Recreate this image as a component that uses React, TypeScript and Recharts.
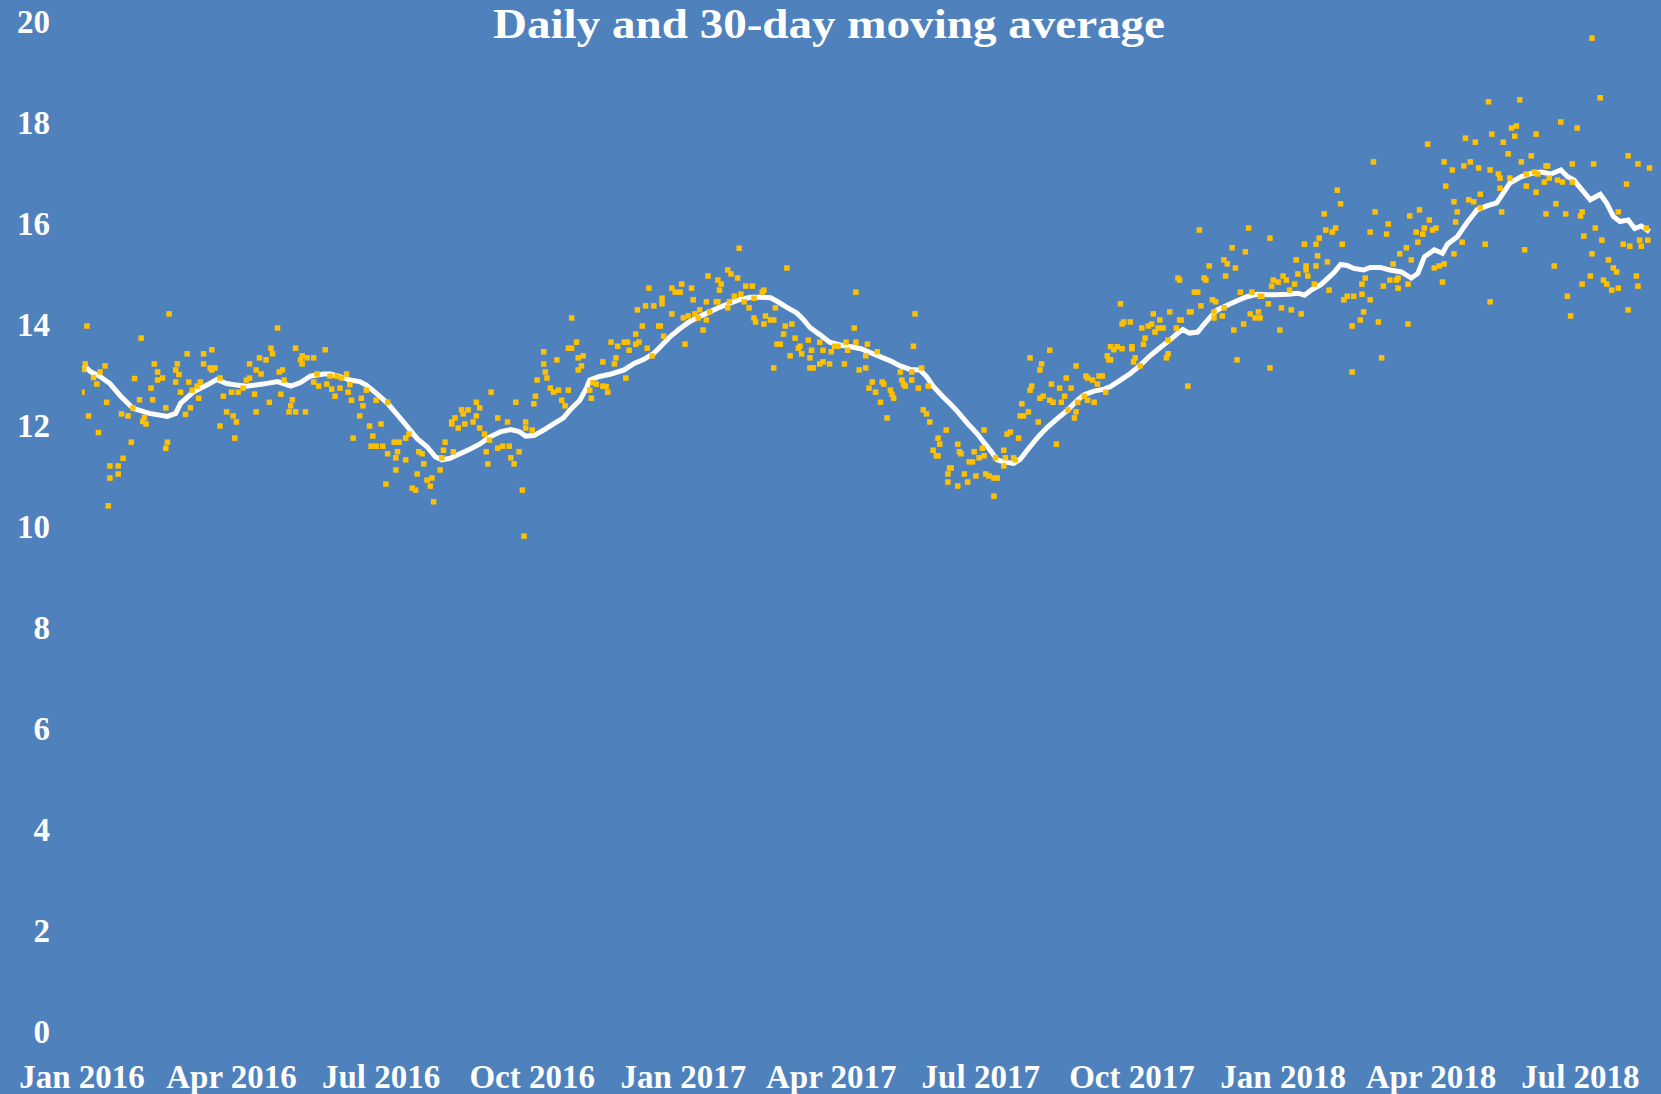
import { ComposedChart, Line, Scatter, XAxis, YAxis } from "recharts";

const WIDTH = 1661;
const HEIGHT = 1094;
const BG = "#4F81BD";
const GOLD = "#FFC000";
const FONT = '"Liberation Serif", "Times New Roman", serif';

const TITLE = "Daily and 30-day moving average";

// x is days since 1 Jan 2016
const tickDays = [0, 91, 182, 274, 366, 456, 547, 639, 731, 821, 912];
const tickLabels = [
  "Jan 2016", "Apr 2016", "Jul 2016", "Oct 2016", "Jan 2017", "Apr 2017",
  "Jul 2017", "Oct 2017", "Jan 2018", "Apr 2018", "Jul 2018",
];
const yTicks = [0, 2, 4, 6, 8, 10, 12, 14, 16, 18, 20];

// daily readings [day, value]
const dailyJanMay2016: [number, number][] = [
  [3,13.96],[53,14.2],[36,13.72],[2,13.21],[1,13.1],[7,12.94],[9,12.81],[0,12.65],[11,13.05],[14,13.17],
  [4,12.18],[10,11.85],[15,12.45],[24,12.22],[28,12.18],[31,12.34],[30,11.66],[25,11.34],[17,11.19],[22,11.19],
  [22,11.03],[17,10.95],[16,10.4],[32,12.92],[35,12.5],[42,12.73],[43,12.5],[44,13.21],[46,13.05],[46,12.89],
  [49,12.93],[38,12.15],[39,12.02],[37,12.07],[51,12.34],[52,11.66],[51,11.54],[58,13.21],[57,13.09],[59,13.0],
  [57,12.85],[60,12.65],[64,13.41],[65,12.85],[66,12.34],[63,12.21],[71,12.53],[67,12.69],[70,12.77],[72,12.85],
  [74,13.41],[74,13.21],[79,13.49],[78,13.13],[81,13.13],[79,13.09],[84,12.93],[86,12.57],[84,11.98],[88,12.26],
  [92,12.18],[94,12.06],[93,11.74],[91,12.65],[95,12.65],[98,12.73],[100,12.89],[102,12.93],[102,13.21],[106,13.09],
  [109,13.01],[108,13.33],[112,13.29],[115,13.52],[116,13.41],[105,12.61],[106,12.26],[114,12.45],[119,13.92],[120,13.05],
  [122,13.09],[123,12.89],[121,12.61],[128,12.5],[127,12.38],[126,12.26],[130,12.26],[136,12.26],[130,13.52],[134,13.37],
  [133,13.29],[137,13.33],[141,13.33],[134,13.21],[148,13.49],[141,12.85],[144,12.77],[149,12.81],[143,13.01],[151,12.97],
];

const dailyJunNov2016: [number, number][] = [
  [152,12.71],[154,12.57],[155,12.97],[157,12.73],[158,12.93],[161,13.01],[163,12.8],[162,12.65],[164,12.49],[170,12.53],
  [171,12.38],[173,12.69],[179,12.49],[186,12.45],[169,12.18],[175,11.98],[182,12.02],[165,11.74],[177,11.78],[176,11.58],
  [179,11.58],[183,11.58],[186,11.43],[191,11.35],[192,11.47],[190,11.66],[193,11.66],[197,11.31],[191,11.11],[185,10.83],
  [197,11.74],[199,11.82],[205,11.47],[207,11.43],[208,11.23],[204,11.03],[201,10.75],[203,10.71],[210,10.91],[213,10.95],
  [212,10.79],[214,10.48],[218,11.11],[219,11.35],[220,11.5],[221,11.66],[226,11.47],[225,12.02],[225,12.06],[227,12.14],
  [229,11.94],[231,12.3],[232,12.22],[235,12.3],[233,12.02],[238,12.06],[240,12.18],[240,12.45],[242,12.34],[242,11.94],
  [245,11.82],[248,11.7],[246,11.47],[247,11.23],[249,12.65],[253,12.14],[253,11.54],[256,11.58],[260,11.58],[259,12.06],
  [261,11.35],[263,11.23],[264,12.45],[266,11.47],[268,10.71],[269,9.8],[270,12.06],[270,11.94],[274,11.9],[275,12.42],
  [276,12.57],[277,12.89],[281,13.45],[281,13.21],[282,13.05],[283,12.93],[285,12.73],[287,12.65],[290,12.69],[289,13.29],
  [292,12.49],[294,12.38],[296,12.69],[298,14.12],[296,13.52],[298,13.52],[301,13.64],[302,13.33],[305,13.37],[304,13.17],
  [302,13.09],[309,12.69],
];

const dailyNov2016Apr2017: [number, number][] = [
  [311,12.84],[313,12.81],[317,12.77],[319,12.76],[320,12.65],[310,12.53],[317,13.25],[324,13.21],[325,13.33],[322,13.64],
  [326,13.56],[330,13.64],[332,13.64],[331,12.93],[333,13.48],[337,13.8],[337,13.6],[339,13.64],[338,14.28],[341,13.96],
  [343,14.36],[348,14.36],[344,13.52],[345,14.71],[347,13.37],[351,13.96],[352,13.96],[353,14.51],[353,14.4],[354,13.76],
  [359,14.2],[359,14.71],[361,14.63],[364,14.63],[365,14.79],[366,14.12],[369,14.16],[367,13.6],[371,14.71],[372,14.48],
  [373,14.2],[375,14.12],[376,14.28],[378,13.88],[380,14.44],[380,14.08],[381,14.95],[382,14.24],[386,14.44],[387,14.44],
  [387,14.87],[389,14.79],[388,14.67],[393,15.07],[393,14.32],[394,14.44],[395,14.99],[397,14.55],[399,14.91],[400,15.5],
  [401,14.59],[403,14.44],[404,14.75],[408,14.75],[406,14.32],[409,14.51],[409,14.12],[410,14.04],[414,14.63],[415,14.67],
  [415,14.0],[416,14.16],[419,14.08],[421,14.08],[422,14.32],[421,13.13],[423,13.6],[425,13.6],[427,13.8],[428,13.96],
  [432,14.0],[429,15.11],[431,13.37],[434,13.72],[436,13.52],[437,13.56],[438,13.41],[442,13.68],[443,13.33],[444,13.48],
  [443,13.13],[445,13.13],[449,13.64],[449,13.21],[451,13.25],[455,13.21],[451,13.48],[456,13.45],[458,13.56],[460,13.56],
  [464,13.21],[465,13.64],[466,13.48],
];

const dailyApr2017Sep2017: [number, number][] = [
  [471,14.63],[470,13.92],[471,13.64],[478,13.6],[477,13.37],[473,13.09],[477,13.13],[484,13.45],[481,12.85],[479,12.73],
  [483,12.65],[487,12.85],[488,12.81],[486,12.45],[492,12.69],[493,12.61],[494,12.53],[490,12.14],[498,13.05],[499,12.89],
  [500,12.81],[501,12.77],[505,13.05],[505,12.89],[506,13.56],[507,14.2],[509,12.73],[511,13.13],[515,12.77],[512,12.3],
  [514,12.22],[516,12.06],[521,11.74],[522,11.62],[518,11.5],[520,11.39],[521,11.39],[526,11.9],[528,11.15],[529,11.15],
  [527,11.03],[527,10.87],[533,11.62],[534,11.47],[535,11.43],[537,11.03],[533,10.79],[539,10.87],[540,11.27],[542,11.27],
  [543,11.47],[544,10.99],[546,11.35],[548,11.54],[549,11.9],[549,11.39],[550,11.03],[552,10.99],[555,10.95],[557,10.95],
  [555,10.59],[556,11.35],[561,11.5],[561,11.19],[562,11.35],[563,11.82],[565,11.86],[567,11.35],[568,11.31],[570,11.74],
  [571,12.18],[573,12.18],[576,12.26],[572,12.42],[577,12.69],[578,12.77],[577,13.33],[582,12.06],[583,13.09],[584,13.21],
  [583,12.53],[585,12.57],[589,13.48],[589,12.49],[591,12.45],[590,12.81],[593,11.62],[595,12.73],[596,12.45],[598,12.57],
  [599,12.93],[600,12.3],[602,12.73],[604,12.14],[605,12.26],[606,12.45],[605,13.17],[610,12.57],[611,12.97],[612,12.93],
  [612,12.49],[616,12.45],[615,12.89],[618,12.81],[619,12.97],[621,12.97],[623,12.65],[624,13.37],[625,13.29],
];

const dailySep2017Feb2018: [number, number][] = [
  [626,13.55],[628,13.49],[630,13.55],[633,13.51],[626,13.29],[632,14.4],[634,14.04],[638,14.04],[633,14.0],[639,13.55],
  [639,13.51],[641,13.33],[640,13.25],[644,13.17],[646,13.6],[647,13.72],[645,13.92],[649,13.96],[651,14.0],[652,14.2],
  [653,13.84],[655,13.92],[658,13.92],[656,14.08],[660,13.33],[661,13.41],[661,13.68],[662,14.24],[666,13.92],[667,14.91],
  [668,14.87],[668,14.08],[669,14.08],[673,12.77],[674,14.24],[675,14.24],[677,14.63],[679,14.63],[680,15.86],[681,14.36],
  [683,14.91],[684,14.87],[686,15.15],[688,14.48],[689,14.24],[689,14.12],[690,14.44],[694,14.16],[695,14.32],[695,15.27],
  [697,15.19],[696,14.95],[700,15.51],[701,13.88],[702,15.11],[703,13.29],[705,14.63],[707,14.0],[708,15.43],[710,15.9],
  [711,14.2],[712,14.63],[714,14.12],[716,14.24],[717,14.12],[717,14.55],[718,14.55],[722,14.4],[723,15.7],[723,13.13],
  [724,14.75],[725,14.87],[728,14.83],[729,13.88],[730,14.32],[731,14.95],[733,14.87],[735,14.67],[736,14.28],[738,14.79],
  [739,15.27],[740,14.99],[742,14.2],[744,15.58],[745,15.15],[745,15.07],[746,14.95],[750,14.79],[751,15.58],[751,15.15],
  [752,15.35],[753,15.7],[756,16.18],[757,15.86],[761,15.82],[763,15.9],[758,15.23],[759,14.67],[764,16.65],[766,16.38],
  [767,15.58],[768,14.48],[770,14.55],[774,14.55],[773,13.96],[773,13.05],[778,14.08],[779,14.79],[779,14.59],[780,14.24],
  [781,14.91],[784,14.48],
];

const dailyFeb2018Aug2018: [number, number][] = [
  [786,17.21],[784,15.82],[787,16.22],[789,14.04],[791,13.33],[792,14.75],[794,15.78],[795,15.98],[796,14.87],[800,14.87],
  [798,15.19],[801,14.71],[801,14.91],[802,15.39],[806,15.51],[807,14.79],[807,14.0],[808,16.14],[809,15.27],[812,15.82],
  [813,15.62],[814,16.26],[816,15.78],[817,15.9],[819,17.56],[820,16.06],[822,15.86],[824,15.9],[823,15.11],[826,15.15],
  [829,15.19],[828,14.83],[829,17.21],[830,16.73],[834,17.05],[835,16.42],[835,15.39],[836,16.02],[837,16.22],[840,15.62],
  [841,17.13],[842,17.68],[844,16.46],[845,17.21],[847,16.42],[848,17.6],[850,17.09],[851,16.57],[851,16.3],[854,15.58],
  [856,18.4],[857,17.05],[857,14.44],[858,17.76],[862,16.97],[863,16.89],[863,16.69],[864,16.22],[865,17.6],[868,17.37],
  [869,16.89],[870,17.88],[873,17.92],[872,17.72],[875,18.44],[876,17.21],[878,15.47],[879,16.97],[879,16.73],[882,17.33],
  [884,17.01],[886,16.97],[885,17.76],[885,16.61],[890,16.81],[891,17.13],[892,17.13],[891,16.18],[893,16.89],[896,15.15],
  [897,16.38],[898,16.85],[900,18.0],[901,16.81],[903,16.18],[904,14.55],[906,14.16],[907,17.17],[907,16.81],[910,17.88],
  [912,16.14],[913,16.22],[913,14.79],[914,15.74],[918,14.95],[919,19.66],[919,15.39],[920,17.17],[921,15.9],[924,18.48],
  [925,15.66],[926,14.87],[928,14.79],[929,15.27],[931,14.67],[932,15.11],[934,15.03],[935,14.71],[935,16.22],[940,16.77],
  [938,15.58],[942,15.54],[941,17.33],[941,14.28],[946,14.95],[947,17.17],[947,14.75],[948,15.66],[949,15.54],[952,15.9],
  [953,15.66],[954,17.09],
];

// 30-day moving average [day, value]
const movingAvg2016: [number, number][] = [
  [1,13.19],[5,13.06],[11,12.96],[17,12.82],[23,12.59],[31,12.33],[41,12.23],[52,12.17],[57,12.23],[60,12.43],
  [68,12.66],[76,12.79],[82,12.9],[88,12.82],[94,12.79],[100,12.77],[110,12.81],[119,12.86],[127,12.77],[133,12.84],
  [139,12.97],[147,13.01],[151,13.01],[157,12.96],[163,12.89],[169,12.86],[173,12.79],[179,12.63],[186,12.43],[192,12.2],
  [198,11.97],[204,11.73],[210,11.57],[215,11.37],[219,11.31],[224,11.34],[230,11.43],[236,11.52],[242,11.62],[248,11.76],
  [255,11.87],[261,11.91],[266,11.87],[270,11.78],[275,11.79],[281,11.9],[287,12.02],[293,12.14],[297,12.3],[303,12.49],
  [307,12.73],[309,12.89],[315,12.96],[322,13.01],[330,13.09],[336,13.22],[342,13.3],[348,13.42],[352,13.55],[358,13.75],
  [364,13.91],
];

const movingAvg2017: [number, number][] = [
  [370,14.05],[376,14.15],[382,14.24],[388,14.33],[395,14.42],[401,14.49],[407,14.53],[413,14.53],[419,14.52],[423,14.45],
  [429,14.33],[435,14.22],[439,14.09],[443,13.93],[449,13.79],[455,13.64],[462,13.58],[468,13.55],[474,13.51],[480,13.43],
  [486,13.35],[492,13.27],[498,13.17],[504,13.1],[510,13.09],[514,12.96],[518,12.77],[524,12.56],[529,12.4],[533,12.26],
  [539,12.03],[545,11.82],[549,11.65],[553,11.49],[557,11.31],[561,11.27],[567,11.24],[571,11.32],[575,11.49],[581,11.73],
  [587,11.94],[593,12.11],[600,12.3],[606,12.5],[610,12.6],[616,12.67],[622,12.71],[626,12.76],[632,12.89],[638,13.02],
  [644,13.18],[650,13.37],[656,13.53],[662,13.68],[667,13.82],[670,13.89],[674,13.82],[679,13.84],[683,14.0],[687,14.15],
  [691,14.28],[697,14.37],[703,14.46],[709,14.54],[715,14.59],[721,14.58],[727,14.58],
];

const movingAvg2018: [number, number][] = [
  [734,14.59],[740,14.61],[744,14.57],[748,14.67],[754,14.78],[758,14.9],[762,15.02],[766,15.18],[770,15.16],[774,15.1],
  [780,15.07],[784,15.12],[790,15.12],[796,15.07],[803,15.03],[809,14.91],[813,15.0],[817,15.33],[823,15.47],[828,15.4],
  [831,15.58],[837,15.73],[843,16.01],[849,16.26],[855,16.34],[861,16.4],[865,16.59],[869,16.79],[876,16.92],[882,16.98],
  [888,17.01],[894,16.97],[900,17.05],[904,16.92],[908,16.85],[912,16.69],[918,16.46],[924,16.57],[928,16.39],[932,16.13],
  [936,16.03],[941,16.06],[945,15.89],[949,15.94],[954,15.83],
];

const toRows = (pts: [number, number][]) => pts.map(([day, value]) => ({ day, value }));

const dailyData = toRows([
  ...dailyJanMay2016,
  ...dailyJunNov2016,
  ...dailyNov2016Apr2017,
  ...dailyApr2017Sep2017,
  ...dailySep2017Feb2018,
  ...dailyFeb2018Aug2018,
]);
const avgData = toRows([...movingAvg2016, ...movingAvg2017, ...movingAvg2018]);

const tickStyle = { fill: "#FFFFFF", fontSize: 33, fontFamily: FONT, fontWeight: 700 };

function SquareDot(props: any) {
  const { cx, cy } = props;
  if (cx == null || cy == null) return null;
  return <rect x={cx - 2.75} y={cy - 2.75} width={5.5} height={5.5} fill={GOLD} />;
}

export default function App() {
  return (
    <div
      style={{
        position: "absolute",
        left: 0,
        top: 0,
        width: WIDTH,
        height: HEIGHT,
        background: BG,
        overflow: "hidden",
      }}
    >
      <ComposedChart
        width={WIDTH}
        height={HEIGHT}
        margin={{ top: 21, right: 0, bottom: 0, left: 0 }}
      >
        <XAxis
          type="number"
          dataKey="day"
          domain={[0, 961]}
          ticks={tickDays}
          interval={0}
          tickFormatter={(v: number) => tickLabels[tickDays.indexOf(v)] ?? ""}
          axisLine={false}
          tickLine={false}
          tickSize={0}
          tickMargin={34}
          height={63}
          tick={tickStyle}
          allowDataOverflow
        />
        <YAxis
          type="number"
          domain={[0, 20]}
          ticks={yTicks}
          interval={0}
          axisLine={false}
          tickLine={false}
          tickSize={0}
          tickMargin={32}
          width={82}
          tick={tickStyle}
        />
        <Line
          data={avgData}
          dataKey="value"
          type="linear"
          stroke="#FFFFFF"
          strokeWidth={5}
          dot={false}
          activeDot={false}
          isAnimationActive={false}
        />
        <Scatter
          data={dailyData}
          dataKey="value"
          shape={SquareDot}
          isAnimationActive={false}
        />
      </ComposedChart>
      <svg
        width={WIDTH}
        height={60}
        style={{ position: "absolute", left: 0, top: 0, pointerEvents: "none" }}
      >
        <text
          x={829}
          y={38}
          textAnchor="middle"
          fill="#FFFFFF"
          fontFamily={FONT}
          fontWeight={700}
          fontSize={42}
          textLength={672}
          lengthAdjust="spacingAndGlyphs"
        >
          {TITLE}
        </text>
      </svg>
    </div>
  );
}
